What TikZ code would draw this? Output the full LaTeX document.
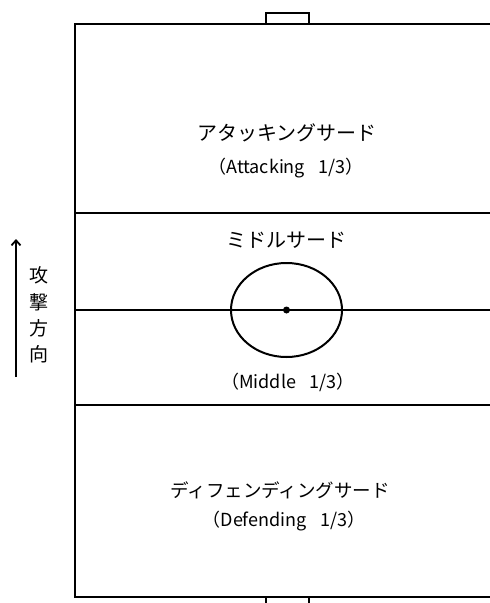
\documentclass[tikz,border=0pt]{standalone}
\usepackage{fontspec}
\setmainfont{Noto Sans CJK JP}
\usetikzlibrary{arrows.meta,shapes.geometric}
\newcommand{\gapsp}{\hspace{0.75em}}
\begin{document}
\begin{tikzpicture}[x=1pt,y=-1pt,
  fieldline/.style={line width=2pt, line cap=rect},
  lbl/.style={font=\fontsize{20}{22}\selectfont, inner sep=0pt},
  sub/.style={font=\fontsize{18}{20}\selectfont, inner sep=0pt},
  vlbl/.style={font=\fontsize{19}{21}\selectfont, inner sep=0pt}]
\useasboundingbox (0,0) rectangle (490,603);
% field
\coordinate (tl) at (74.5,23.5);
\coordinate (tr) at (495,23.5);
\coordinate (bl) at (74.5,596.5);
\coordinate (br) at (495,596.5);
\draw[fieldline] (tr) -- (tl) -- (bl) -- (br);
\coordinate (l1) at (74.5,213); \coordinate (r1) at (495,213);
\coordinate (l2) at (74.5,310); \coordinate (r2) at (495,310);
\coordinate (l3) at (74.5,405); \coordinate (r3) at (495,405);
\draw[fieldline] (l1) -- (r1);
\draw[fieldline] (l2) -- (r2);
\draw[fieldline] (l3) -- (r3);
% goal top
\coordinate (g1) at (265.5,23.5); \coordinate (g2) at (265.5,12.5);
\coordinate (g3) at (308.5,12.5); \coordinate (g4) at (308.5,23.5);
\draw[line width=2pt] (g1) -- (g2) -- (g3) -- (g4);
% ticks bottom
\coordinate (b1) at (265.5,596.5); \coordinate (b1e) at (265.5,604);
\coordinate (b2) at (308.5,596.5); \coordinate (b2e) at (308.5,604);
\draw[line width=2pt] (b1) -- (b1e);
\draw[line width=2pt] (b2) -- (b2e);
% centre circle
\node[draw, line width=2pt, ellipse, minimum width=111pt, minimum height=94pt, inner sep=0pt] (circ) at (286.5,310) {};
\fill (286.5,310) circle (3.5pt) coordinate (cs);
% labels
\node[lbl] (att) at (287,133) {アタッキングサード};
\node[sub] (atts) at (286,168) {（Attacking\gapsp 1/3）};
\node[lbl] (mid) at (286,240) {ミドルサード};
\node[sub] (mids) at (288,382) {（Middle\gapsp 1/3）};
\node[lbl, font=\fontsize{18.5}{20}\selectfont] (def) at (280,490) {ディフェンディングサード};
\node[sub] (defs) at (284,521) {（Defending\gapsp 1/3）};
% direction
\coordinate (a0) at (16,377); \coordinate (a1) at (16,239);
\draw[line width=1.8pt, -{Straight Barb[length=5pt,width=9pt,line width=1.8pt]}] (a0) -- (a1);
\node[vlbl] (v1) at (39,275) {攻};
\node[vlbl] (v2) at (39,302) {撃};
\node[vlbl] (v3) at (39,328) {方};
\node[vlbl] (v4) at (39,354) {向};
\end{tikzpicture}
\end{document}
